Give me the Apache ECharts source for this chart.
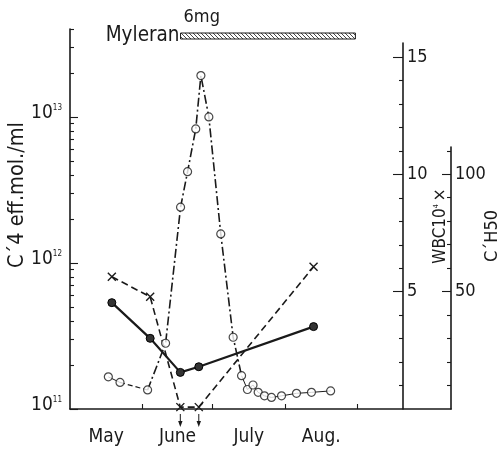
<!DOCTYPE html>
<html>
<head>
<meta charset="utf-8">
<script src="https://cdn.jsdelivr.net/npm/echarts@6/dist/echarts.min.js"></script>
<style>
  html, body { margin: 0; padding: 0; background: #fff; }
  #chart { width: 502px; height: 450px; }
</style>
</head>
<body>
<div id="chart"></div>
<script>
// Time is counted in days from 1 May.
const monthStarts = [31, 61, 92, 123];
const monthMids = [15.5, 46, 76.5, 107.5];
const monthNames = ['May', 'June', 'July', 'Aug.'];

// C'4 titre (eff. molecules / ml)
const c4Days = [16.4, 21.4, 33.2, 40.9, 47.3, 50.3, 53.8, 56.0, 59.4, 64.5, 69.8,
                73.4, 75.9, 78.3, 80.5, 83.2, 86.2, 90.5, 96.9, 103.3, 111.5];
const c4Values = [1.66e11, 1.52e11, 1.35e11, 2.82e11, 2.41e12, 4.22e12, 8.28e12, 1.92e13,
                  1.0e13, 1.58e12, 3.10e11, 1.69e11, 1.36e11, 1.46e11, 1.30e11, 1.23e11,
                  1.20e11, 1.23e11, 1.28e11, 1.30e11, 1.33e11];

// White cell count and C'H50, sampled on the same days
const sampleDays = [17.9, 34.3, 47.2, 55.1, 104.2];
const wbcValues = [5.64, 4.78, 0.08, 0.08, 6.06];
const ch50Values = [45.3, 30.1, 15.6, 18.0, 35.1];

// Myleran course and marked days
const myleranPeriod = [47.3, 122.1];
const myleranDose = '6mg';
const arrowDays = [47.2, 55.1];

// Axis tick values
const logDecades = [11, 12, 13];
const wbcTicks = [5, 10, 15];
const wbcMinorTicks = [1, 2, 3, 4, 6, 7, 8, 9, 11, 12, 13, 14];
const ch50Ticks = [50, 100];
const ch50MinorTicks = [10, 20, 30, 40, 60, 70, 80, 90, 110];

const FONT = '"DejaVu Sans Condensed", "DejaVu Sans", sans-serif';
const INK = '#1a1a1a';

const X_MAX = 163;
const LOG_MIN = 1e11, LOG_MAX = 4e13;
const WBC_MAX = 15.6, CH50_MAX = 111.6;

// Line style of each stretch of the C'4 curve (index ranges into c4Days)
const c4Segments = [
  { from: 0, to: 1, type: 'solid', width: 1 },
  { from: 1, to: 2, type: [5, 3], width: 1.2 },
  { from: 2, to: 11, type: [9, 3, 2, 3], width: 1.6 },
  { from: 11, to: 20, type: 'solid', width: 1 }
];

const c4Points = c4Days.map((d, i) => [d, c4Values[i]]);
const wbcPoints = sampleDays.map((d, i) => [d, wbcValues[i]]);
const ch50Points = sampleDays.map((d, i) => [d, ch50Values[i]]);

// Minor ticks of the log axis, expressed in log10 units
const minorLogTicks = [];
for (let n = 11; n <= 13; n++) {
  for (let k = 2; k <= 9; k++) {
    const v = Math.log10(k * Math.pow(10, n));
    if (v <= Math.log10(LOG_MAX) + 1e-9) minorLogTicks.push(v);
  }
}

function hatchPattern() {
  const c = document.createElement('canvas');
  c.width = 4; c.height = 4;
  const g = c.getContext('2d');
  g.strokeStyle = '#333';
  g.lineWidth = 0.9;
  g.beginPath();
  g.moveTo(-1, -1); g.lineTo(5, 5);
  g.moveTo(-1, 3); g.lineTo(1, 5);
  g.moveTo(3, -1); g.lineTo(5, 1);
  g.stroke();
  return { image: c, repeat: 'repeat' };
}

const axisLineStyle = { color: INK, width: 1.6 };
const tickStyle = { color: INK, width: 1.1 };
const labelStyle = { color: INK, fontFamily: FONT, fontSize: 18 };

function xAxisFor(grid, visible) {
  return {
    gridIndex: grid, type: 'value', min: 0, max: X_MAX,
    splitLine: { show: false },
    axisLine: { show: visible, onZero: false, lineStyle: axisLineStyle },
    axisTick: { show: visible, inside: true, length: 5, customValues: monthStarts, lineStyle: tickStyle },
    axisLabel: {
      show: visible, customValues: monthMids, margin: 19,
      color: INK, fontFamily: FONT, fontSize: 19,
      formatter: v => {
        let best = 0;
        monthMids.forEach((m, i) => { if (Math.abs(m - v) < Math.abs(monthMids[best] - v)) best = i; });
        return monthNames[best];
      }
    }
  };
}

// Value axis overlaid on a grid that only draws ticks
function tickAxis(grid, position, offset, min, max, values, length) {
  return {
    gridIndex: grid, type: 'value', min: min, max: max, position: position, offset: offset,
    splitLine: { show: false },
    axisLine: { show: false, onZero: false },
    axisTick: { show: true, inside: true, length: length, customValues: values, lineStyle: tickStyle },
    axisLabel: { show: false }
  };
}

const chart = echarts.init(document.getElementById('chart'), null, { renderer: 'canvas' });

const series = [];

c4Segments.forEach(seg => {
  series.push({
    type: 'line', xAxisIndex: 0, yAxisIndex: 0,
    data: c4Points.slice(seg.from, seg.to + 1),
    showSymbol: false, silent: true, z: 2,
    lineStyle: { color: INK, width: seg.width, type: seg.type }
  });
});

series.push({
  name: "C'4", type: 'scatter', xAxisIndex: 0, yAxisIndex: 0,
  data: c4Points, symbol: 'circle', symbolSize: 8, z: 5,
  itemStyle: { color: '#fff', borderColor: INK, borderWidth: 1.2 }
});

series.push({
  name: 'WBC', type: 'line', xAxisIndex: 1, yAxisIndex: 3,
  data: wbcPoints, z: 3,
  symbol: 'path://M0,0L10,10M10,0L0,10', symbolSize: 8,
  itemStyle: { color: 'none', borderColor: INK, borderWidth: 1.4 },
  lineStyle: { color: INK, width: 1.6, type: [7, 4] }
});

series.push({
  name: "C'H50", type: 'line', xAxisIndex: 2, yAxisIndex: 5,
  data: ch50Points, z: 4,
  symbol: 'circle', symbolSize: 8,
  itemStyle: { color: '#333', borderColor: '#000', borderWidth: 1 },
  lineStyle: { color: INK, width: 2.2 }
});

// Treatment bar above the plot
series.push({
  type: 'custom', xAxisIndex: 0, yAxisIndex: 0, clip: false, silent: true, z: 6,
  data: [myleranPeriod],
  encode: { x: [0, 1] },
  renderItem: (params, api) => {
    const x0 = api.coord([api.value(0), LOG_MIN])[0];
    const x1 = api.coord([api.value(1), LOG_MIN])[0];
    const top = params.coordSys.y;
    return {
      type: 'group',
      children: [
        { type: 'rect', shape: { x: x0, y: top + 4, width: x1 - x0, height: 6 },
          style: { fill: hatchPattern(), stroke: INK, lineWidth: 1 } },
        { type: 'text', style: { text: 'Myleran', x: x0 - 1, y: top + 7, align: 'right',
          verticalAlign: 'middle', font: '20.5px ' + FONT, fill: INK } },
        { type: 'text', style: { text: myleranDose, x: x0 + 3, y: top - 12, align: 'left',
          verticalAlign: 'middle', font: '18px ' + FONT, fill: INK } }
      ]
    };
  }
});

// Arrows under the time axis
series.push({
  type: 'custom', xAxisIndex: 0, yAxisIndex: 0, clip: false, silent: true, z: 6,
  data: arrowDays.map(d => [d]),
  encode: { x: 0 },
  renderItem: (params, api) => {
    const x = api.coord([api.value(0), LOG_MIN])[0];
    const y0 = params.coordSys.y + params.coordSys.height;
    return {
      type: 'group',
      children: [
        { type: 'line', shape: { x1: x, y1: y0 + 5, x2: x, y2: y0 + 15 },
          style: { stroke: INK, lineWidth: 1 } },
        { type: 'polygon', shape: { points: [[x - 2.2, y0 + 12], [x + 2.2, y0 + 12], [x, y0 + 18]] },
          style: { fill: INK } }
      ]
    };
  }
});

const LOG_TOP = Math.log10(LOG_MAX);

const option = {
  animation: false,
  backgroundColor: '#fff',
  grid: [
    { left: 70, right: 51, top: 29, bottom: 41 },
    { left: 70, right: 51, top: 43, bottom: 41 },
    { left: 70, right: 51, top: 147, bottom: 41 }
  ],
  xAxis: [xAxisFor(0, true), xAxisFor(1, false), xAxisFor(2, false)],
  yAxis: [
    { // 0: C'4, logarithmic
      gridIndex: 0, type: 'log', logBase: 10, min: LOG_MIN, max: LOG_MAX, position: 'left',
      splitLine: { show: false },
      axisLine: { show: true, onZero: false, lineStyle: axisLineStyle },
      axisTick: { show: false },
      axisLabel: {
        margin: 8, padding: [0, 0, 8, 0], showMaxLabel: false,
        formatter: v => {
          const e = Math.log10(v);
          if (Math.abs(e - Math.round(e)) > 0.01) return '';
          return '{b|10}{s|' + Math.round(e) + '}';
        },
        rich: {
          b: { fontFamily: FONT, fontSize: 19, color: INK, verticalAlign: 'bottom' },
          s: { fontFamily: FONT, fontSize: 8, color: INK, verticalAlign: 'top' }
        }
      }
    },
    // 1, 2: decade and minor ticks of the log scale (log10 units)
    tickAxis(0, 'left', 0, 11, LOG_TOP, logDecades, 8),
    tickAxis(0, 'left', 0, 11, LOG_TOP, minorLogTicks, 4),
    { // 3: WBC
      gridIndex: 1, type: 'value', min: 0, max: WBC_MAX, position: 'right', offset: -48,
      splitLine: { show: false },
      axisLine: { show: true, onZero: false, lineStyle: axisLineStyle },
      axisTick: { inside: true, length: 10, customValues: wbcTicks, lineStyle: tickStyle },
      axisLabel: { customValues: wbcTicks, margin: 4, ...labelStyle }
    },
    tickAxis(1, 'right', -48, 0, WBC_MAX, wbcMinorTicks, 4),
    { // 5: C'H50
      gridIndex: 2, type: 'value', min: 0, max: CH50_MAX, position: 'right',
      splitLine: { show: false },
      axisLine: { show: true, onZero: false, lineStyle: axisLineStyle },
      axisTick: { inside: true, length: 9, customValues: ch50Ticks, lineStyle: tickStyle },
      axisLabel: { customValues: ch50Ticks, margin: 4, ...labelStyle }
    },
    tickAxis(2, 'right', 0, 0, CH50_MAX, ch50MinorTicks, 4)
  ],
  graphic: [
    { type: 'text', x: 17, y: 195, rotation: Math.PI / 2, silent: true,
      style: { text: 'C´4 eff.mol./ml', align: 'center', verticalAlign: 'middle',
               font: '21.5px ' + FONT, fill: INK } },
    { type: 'text', x: 441, y: 226, rotation: Math.PI / 2, silent: true,
      style: { text: 'WBC10{s|4}×', align: 'center', verticalAlign: 'middle',
               font: '17px ' + FONT, fill: INK,
               rich: { s: { fontSize: 7, fontFamily: FONT, verticalAlign: 'top', fill: INK, padding: [0, 3, 0, 0] } } } },
    { type: 'text', x: 492, y: 236, rotation: Math.PI / 2, silent: true,
      style: { text: 'C´H50', align: 'center', verticalAlign: 'middle',
               font: '18px ' + FONT, fill: INK } }
  ],
  series: series
};

chart.setOption(option);
</script>
</body>
</html>
